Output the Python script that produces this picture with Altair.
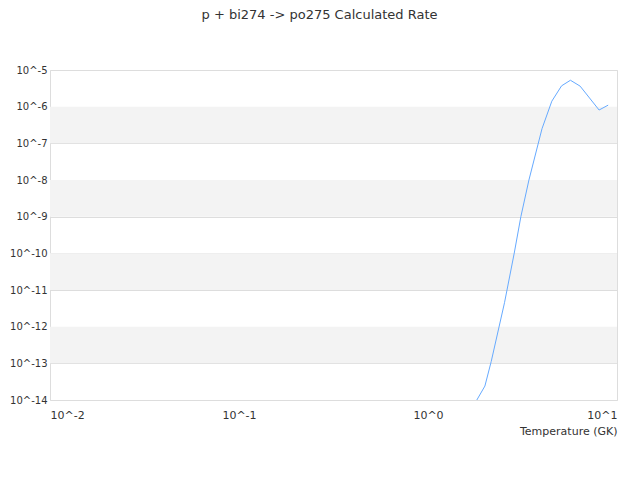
import altair as alt
import pandas as pd

# Temperature (GK) and rate values
temps = [1.5, 1.78, 2.0, 2.16, 2.54, 2.86, 3.10, 3.42, 4.01, 4.52, 5.09, 5.67, 6.38, 8.04, 8.98]
rates = [1e-16, 8.5e-15, 2.4e-14, 1.12e-13, 4.5e-12, 1.02e-10, 1.0e-9, 1.0e-8,
         2.5e-7, 1.41e-6, 3.7e-6, 5.25e-6, 3.63e-6, 8.1e-7, 1.1e-6]

# alternating background bands
band_lo = [1e-7, 1e-9, 1e-11, 1e-13]
band_hi = [1e-6, 1e-8, 1e-10, 1e-12]

x_ticks = [0.01, 0.1, 1, 10]
y_ticks = [1e-14, 1e-13, 1e-12, 1e-11, 1e-10, 1e-9, 1e-8, 1e-7, 1e-6, 1e-5]

df = pd.DataFrame({"T": temps, "rate": rates})
bands = pd.DataFrame({"lo": band_lo, "hi": band_hi})

label_expr = "'10^' + round(log(datum.value) / LN10)"

W = 567
H = 330

xscale = alt.Scale(type="log", domain=[0.01, 10])
yscale = alt.Scale(type="log", domain=[1e-14, 1e-5])

band_layer = alt.Chart(bands).mark_rect(color="#f3f3f3").encode(
    y=alt.Y("lo:Q", scale=yscale,
            axis=alt.Axis(values=y_ticks, labelExpr=label_expr, grid=True,
                          gridColor="#dddddd", ticks=False, domain=False,
                          labelPadding=3, title=None, labelFontSize=10,
                          labelColor="#333333")),
    y2="hi:Q",
    x=alt.value(0),
    x2=alt.value(W),
)

line_layer = alt.Chart(df).mark_line(color="#66aaff", strokeWidth=1, clip=True).encode(
    x=alt.X("T:Q", scale=xscale,
            axis=alt.Axis(values=x_ticks, labelExpr=label_expr, grid=False,
                          ticks=False, domain=False, labelPadding=9,
                          labelFontSize=11, labelColor="#333333",
                          title="Temperature (GK)", titleAnchor="end",
                          titleFontWeight="normal", titleFontSize=11,
                          titleColor="#333333", titlePadding=5)),
    y=alt.Y("rate:Q", scale=yscale),
)

chart = alt.layer(band_layer, line_layer).properties(
    width=W,
    height=H,
    title=alt.TitleParams("p + bi274 -> po275 Calculated Rate", fontSize=13,
                          fontWeight="normal", color="#333333", offset=43, dx=-14),
    autosize=alt.AutoSizeParams(type="none"),
    padding={"left": 42, "top": 62, "right": 15, "bottom": 60},
).configure(font="DejaVu Sans").configure_view(stroke="#dddddd")

chart.save("out.html", embed_options={"renderer": "svg", "actions": False})
